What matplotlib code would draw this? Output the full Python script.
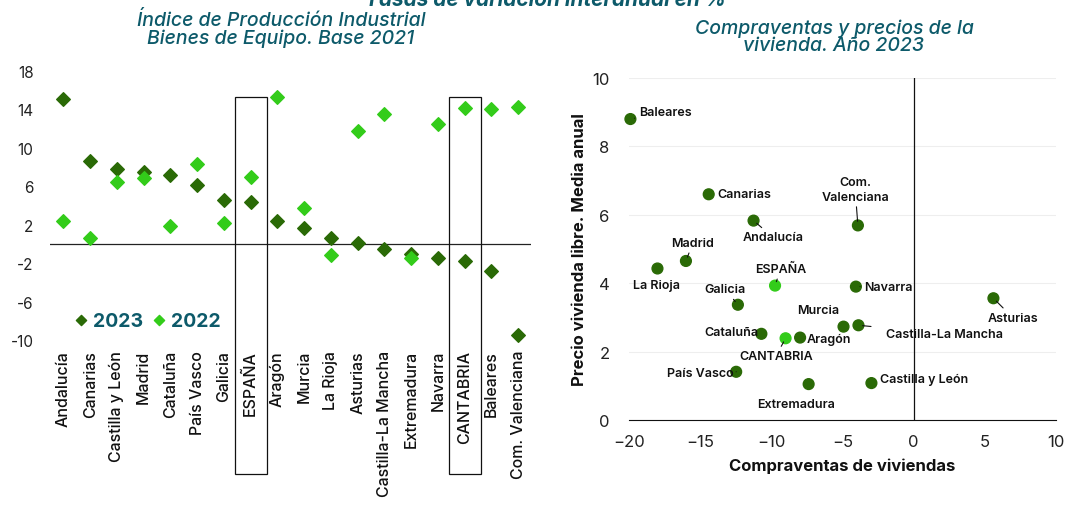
import matplotlib.pyplot as plt
from matplotlib.patches import Rectangle

plt.rcParams['font.family'] = ['Inter', 'DejaVu Sans']

TEAL = '#0d5a6a'
DARK = '#2a6a06'
LIGHT = '#33cc1a'

# Left chart: Indice de Produccion Industrial, bienes de equipo
regiones = ['Andalucía', 'Canarias', 'Castilla y León', 'Madrid', 'Cataluña',
            'País Vasco', 'Galicia', 'ESPAÑA', 'Aragón', 'Murcia', 'La Rioja',
            'Asturias', 'Castilla-La Mancha', 'Extremadura', 'Navarra',
            'CANTABRIA', 'Baleares', 'Com. Valenciana']
ipi_2023 = [15.1, 8.6, 7.8, 7.5, 7.2, 6.1, 4.6, 4.4, 2.35, 1.7, 0.6, 0.1,
            -0.5, -1.0, -1.5, -1.8, -2.8, -9.5]
ipi_2022 = [2.4, 0.6, 6.4, 6.9, 1.9, 8.3, 2.2, 7.0, 15.3, 3.7, -1.1, 11.8,
            13.5, -1.4, 12.5, 14.1, 14.0, 14.3]
y_ticks_left = [18, 14, 10, 6, 2, -2, -6, -10]
destacadas = ['ESPAÑA', 'CANTABRIA']

# Right chart: compraventas y precios de la vivienda 2023
ccaa = ['Baleares', 'Canarias', 'Andalucía', 'Com.\nValenciana', 'Madrid',
        'La Rioja', 'ESPAÑA', 'Navarra', 'Asturias', 'Galicia', 'Murcia',
        'Castilla-La Mancha', 'Cataluña', 'CANTABRIA', 'Aragón', 'País Vasco',
        'Extremadura', 'Castilla y León']
compraventas = [-19.9, -14.4, -11.25, -3.92, -16.0, -18.0, -9.74, -4.06, 5.6,
                -12.35, -4.93, -3.88, -10.7, -9.0, -7.98, -12.47, -7.38, -2.97]
precio = [8.8, 6.6, 5.83, 5.69, 4.65, 4.43, 3.93, 3.90, 3.56, 3.37, 2.73,
          2.77, 2.52, 2.39, 2.41, 1.41, 1.05, 1.08]

# label offsets in points (dx, dy, ha, leader, shrink at text side)
lab_pos = {
    'Baleares': (6, 5, 'left', True, 1),
    'Canarias': (6, 0, 'left', False, 0),
    'Andalucía': (14, -12, 'center', True, 1),
    'Com.\nValenciana': (-2, 26, 'center', True, 1),
    'Madrid': (5, 13, 'center', True, 1),
    'La Rioja': (-1, -12, 'center', False, 0),
    'ESPAÑA': (4, 12, 'center', True, 1),
    'Navarra': (6, 0, 'left', True, 1),
    'Asturias': (14, -14, 'center', True, 1),
    'Galicia': (-9, 11, 'center', True, 1),
    'Murcia': (-18, 12, 'center', False, 0),
    'Castilla-La Mancha': (20, -6, 'left', True, 9),
    'Cataluña': (-2, 1, 'right', False, 0),
    'CANTABRIA': (-7, -13, 'center', True, 1),
    'Aragón': (5, -1, 'left', False, 0),
    'País Vasco': (-2, -1, 'right', True, 1),
    'Extremadura': (-9, -14, 'center', False, 0),
    'Castilla y León': (6, 3, 'left', False, 0),
}

fig = plt.figure(figsize=(10.65, 5.1), dpi=100)

fig.text(0.512, 1.0, 'Tasas de variación interanual en %', ha='center',
         va='center', fontsize=15, fontweight='bold', style='italic',
         color=TEAL)

# ---- left panel ----
ax1 = fig.add_axes([0.047, 0.312, 0.452, 0.547])
x = list(range(len(regiones)))
ax1.scatter(x, ipi_2023, marker='D', s=48, color=DARK, zorder=3,
            label='2023')
ax1.scatter(x, ipi_2022, marker='D', s=48, color=LIGHT, zorder=3,
            label='2022')
ax1.set_xlim(-0.5, len(regiones) - 0.5)
ax1.set_ylim(-11, 18)
ax1.axhline(0, color='#222222', lw=0.9)
for s in ax1.spines.values():
    s.set_visible(False)
ax1.set_yticks(y_ticks_left)
ax1.set_yticklabels([str(v) for v in y_ticks_left], fontsize=11,
                    color='#222222')
ax1.tick_params(axis='y', length=0, pad=12)
ax1.set_xticks(x)
ax1.set_xticklabels(regiones, rotation=90, fontsize=11.5, color='#111111',
                    fontweight='medium')
ax1.tick_params(axis='x', length=0, pad=0)
for name in destacadas:
    i = regiones.index(name)
    ax1.add_patch(Rectangle((i - 0.6, -23.9), 1.2, 39.2, fill=False,
                            edgecolor='#111111', lw=0.9, clip_on=False,
                            zorder=2))
leg = ax1.legend(loc='lower left', bbox_to_anchor=(0.035, 0.045), ncol=2,
                 frameon=False, handlelength=0.6, handletextpad=0.35,
                 columnspacing=0.5, markerscale=0.75, borderaxespad=0,
                 prop={'size': 14, 'weight': 'bold'})
for t in leg.get_texts():
    t.set_color(TEAL)
ax1.set_title('Índice de Producción Industrial\nBienes de Equipo. Base 2021',
              fontsize=14, style='italic', fontweight='medium', color=TEAL,
              linespacing=0.95, pad=20, x=0.48)

# ---- right panel ----
ax2 = fig.add_axes([0.5906, 0.1745, 0.401, 0.6706])
colores = [LIGHT if n in destacadas else DARK for n in ccaa]
ax2.scatter(compraventas, precio, s=60, c=colores, zorder=3, clip_on=False)
ax2.set_xlim(-20, 10)
ax2.set_ylim(0, 10)
ax2.set_xticks([-20, -15, -10, -5, 0, 5, 10])
ax2.set_yticks([0, 2, 4, 6, 8, 10])
ax2.grid(axis='y', color='#eeeeee', lw=0.8)
ax2.set_axisbelow(True)
for s in ['top', 'right', 'left']:
    ax2.spines[s].set_visible(False)
ax2.spines['bottom'].set_color('#111111')
ax2.axvline(0, color='#111111', lw=0.9)
ax2.tick_params(length=0, labelsize=12, colors='#222222')
ax2.tick_params(axis='y', pad=14)
ax2.tick_params(axis='x', pad=10)
ax2.set_xlabel('Compraventas de viviendas', fontsize=12, fontweight='bold',
               color='#111111', labelpad=6)
ax2.set_ylabel('Precio vivienda libre. Media anual', fontsize=12,
               fontweight='bold', color='#111111', labelpad=4)
ax2.set_title('Compraventas y precios de la\nvivienda. Año 2023', fontsize=14,
              style='italic', fontweight='medium', color=TEAL,
              linespacing=0.95, pad=20, x=0.48)

for name, cx, cy in zip(ccaa, compraventas, precio):
    dx, dy, ha, leader, shr = lab_pos[name]
    arrow = dict(arrowstyle='-', color='#111111', lw=0.8,
                 shrinkA=shr, shrinkB=3) if leader else None
    ax2.annotate(name, (cx, cy), xytext=(dx, dy), textcoords='offset points',
                 ha=ha, va='center', fontsize=9, fontweight='semibold',
                 color='#111111', arrowprops=arrow, linespacing=1.3)

fig.savefig('out.png', dpi=100)
